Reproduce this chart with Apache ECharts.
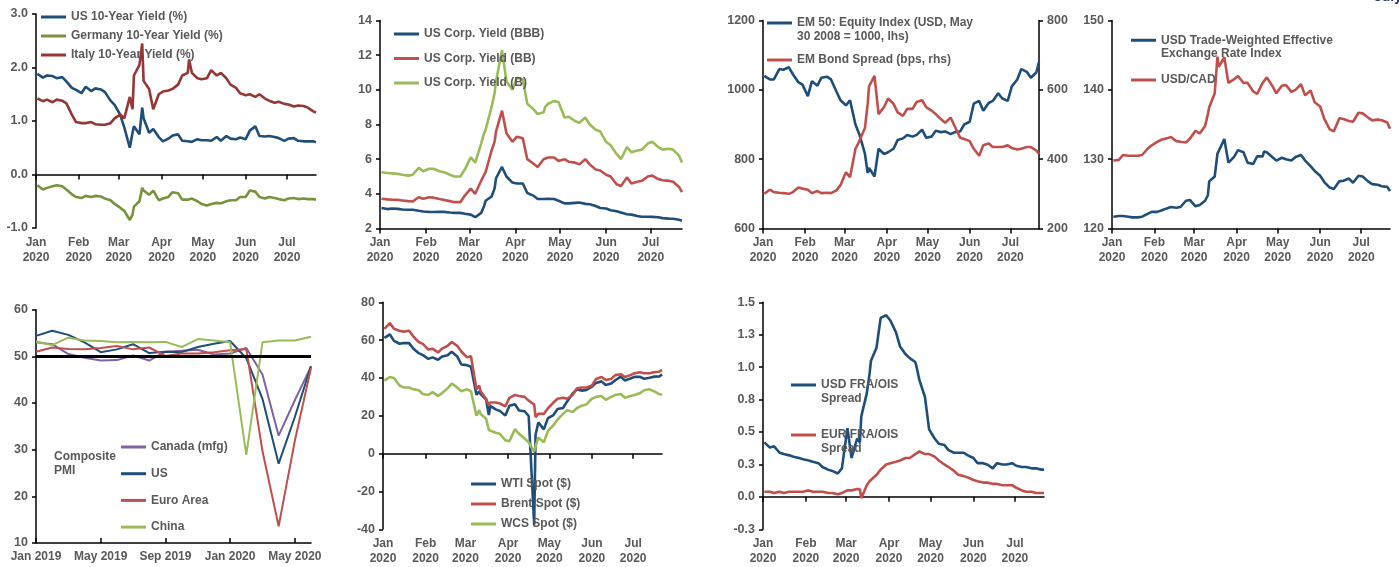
<!DOCTYPE html>
<html><head><meta charset="utf-8">
<script src="https://cdn.jsdelivr.net/npm/echarts@6/dist/echarts.min.js"></script>
<style>html,body{margin:0;padding:0;background:#fff}#c{width:1399px;height:567px}</style>
</head><body><div id="c"></div><script>
// ---------- shared daily sample dates ----------
const dates = ['2020-01-02','2020-01-06','2020-01-09','2020-01-13','2020-01-16','2020-01-20','2020-01-23','2020-01-27','2020-01-30',
'2020-02-03','2020-02-06','2020-02-10','2020-02-13','2020-02-17','2020-02-20','2020-02-24','2020-02-27',
'2020-03-02','2020-03-05','2020-03-09','2020-03-11','2020-03-12','2020-03-16','2020-03-18','2020-03-19','2020-03-23','2020-03-26','2020-03-30',
'2020-04-02','2020-04-06','2020-04-09','2020-04-13','2020-04-16','2020-04-20','2020-04-21','2020-04-23','2020-04-27','2020-04-30',
'2020-05-04','2020-05-07','2020-05-11','2020-05-14','2020-05-18','2020-05-21','2020-05-25','2020-05-28',
'2020-06-01','2020-06-04','2020-06-08','2020-06-11','2020-06-15','2020-06-18','2020-06-22','2020-06-25','2020-06-29',
'2020-07-02','2020-07-06','2020-07-09','2020-07-13','2020-07-16','2020-07-20','2020-07-22'];
const axisStart = '2020-01-01';
const axisEnd = '2020-07-22';
const monthTicks = ['2020-01-01','2020-02-01','2020-03-01','2020-04-01','2020-05-01','2020-06-01','2020-07-01'];
const monthNames = ['Jan','Feb','Mar','Apr','May','Jun','Jul','Aug','Sep','Oct','Nov','Dec'];

// ---------- panel 1: 10-year yields ----------
const us10y = [1.88,1.81,1.85,1.84,1.80,1.82,1.74,1.62,1.58,
1.52,1.64,1.56,1.61,1.59,1.54,1.38,1.30,
1.12,0.88,0.50,0.78,0.90,0.75,1.25,1.05,0.78,0.85,0.70,
0.62,0.67,0.73,0.75,0.63,0.62,0.60,0.61,0.66,0.64,
0.64,0.63,0.70,0.63,0.72,0.67,0.66,0.69,
0.66,0.82,0.90,0.72,0.71,0.72,0.70,0.68,0.63,
0.67,0.68,0.63,0.62,0.62,0.62,0.60];
const germany10y = [-0.20,-0.28,-0.25,-0.22,-0.20,-0.22,-0.28,-0.37,-0.42,
-0.44,-0.40,-0.42,-0.40,-0.41,-0.45,-0.48,-0.55,
-0.62,-0.68,-0.85,-0.75,-0.60,-0.50,-0.25,-0.30,-0.38,-0.30,-0.48,
-0.45,-0.42,-0.33,-0.35,-0.47,-0.47,-0.45,-0.45,-0.50,-0.55,
-0.58,-0.55,-0.53,-0.54,-0.50,-0.48,-0.48,-0.42,
-0.42,-0.30,-0.32,-0.42,-0.45,-0.42,-0.44,-0.46,-0.48,
-0.45,-0.44,-0.46,-0.45,-0.46,-0.46,-0.47];
const italy10y = [1.42,1.37,1.40,1.35,1.40,1.38,1.33,1.12,0.98,
0.96,0.96,0.98,0.94,0.93,0.93,0.96,1.05,
1.12,1.05,1.45,1.22,1.85,2.05,2.45,1.75,1.60,1.22,1.50,
1.55,1.57,1.60,1.68,1.85,1.90,2.15,1.90,1.80,1.78,
1.80,1.95,1.85,1.90,1.80,1.68,1.62,1.52,
1.48,1.50,1.45,1.50,1.42,1.38,1.34,1.36,1.32,
1.31,1.27,1.29,1.28,1.25,1.18,1.16];

// ---------- panel 2: US corporate yields ----------
const corpBBB = [3.18,3.12,3.15,3.13,3.10,3.08,3.08,3.02,2.98,
2.96,2.95,2.97,2.96,2.92,2.90,2.90,2.85,
2.80,2.65,2.90,3.30,3.60,3.85,4.30,4.90,5.55,5.00,4.65,
4.60,4.60,4.05,3.90,3.70,3.70,3.70,3.72,3.70,3.60,
3.45,3.45,3.48,3.50,3.42,3.40,3.30,3.18,
3.15,3.05,3.00,2.92,2.82,2.80,2.72,2.68,2.68,
2.67,2.65,2.60,2.57,2.56,2.50,2.45];
const corpBB = [3.72,3.68,3.66,3.65,3.62,3.58,3.56,3.80,3.72,
3.80,3.78,3.70,3.65,3.58,3.52,3.52,3.90,
4.30,4.00,4.75,5.10,5.25,6.50,7.00,7.60,8.80,7.50,7.00,
7.30,7.20,6.00,5.75,5.55,6.00,6.00,6.10,6.10,5.90,
6.00,5.85,5.80,5.70,6.00,5.70,5.40,5.35,
5.10,5.00,4.55,4.45,4.95,4.60,4.70,4.75,5.00,
5.05,4.85,4.78,4.75,4.70,4.40,4.10];
const corpB = [5.25,5.20,5.18,5.15,5.10,5.05,5.10,5.50,5.30,
5.45,5.45,5.30,5.25,5.10,5.00,5.00,5.40,
6.10,5.80,6.90,7.50,7.70,9.00,9.80,10.50,12.30,10.50,10.00,
10.70,10.60,9.20,8.90,8.60,8.70,9.00,9.20,9.35,9.30,
8.40,8.45,8.20,8.10,8.40,8.00,7.70,7.60,
7.00,6.80,6.30,6.00,6.70,6.40,6.50,6.55,6.90,
7.00,6.70,6.55,6.60,6.55,6.20,5.80];

// ---------- panel 3: EM equity & spread ----------
const em50 = [1040,1030,1030,1060,1058,1065,1045,1022,1015,
982,1025,1012,1035,1038,1030,995,970,
955,970,900,880,870,815,760,775,750,830,815,
820,830,855,860,870,865,860,870,885,862,
865,882,878,880,872,878,880,900,
908,960,968,940,962,968,990,975,968,
1010,1030,1060,1052,1035,1050,1080];
const emSpread = [300,312,305,303,302,300,305,318,315,
312,302,308,302,303,302,310,325,
362,348,430,445,440,490,560,610,640,530,550,
575,560,535,525,545,545,550,565,570,550,
540,530,515,505,520,495,462,458,
452,430,410,440,445,435,435,435,440,
432,428,430,435,435,425,415];

// ---------- panel 4: USD ----------
const usdTwi = [121.7,121.8,121.8,121.7,121.6,121.6,121.7,122.1,122.4,
122.4,122.6,122.9,123.1,123.0,123.1,124.0,124.1,
123.2,123.4,124.0,124.8,126.8,127.5,130.8,131.2,132.9,129.5,130.3,
131.3,131.0,129.5,129.3,130.4,130.4,131.1,131.0,130.3,129.8,
130.2,130.0,129.8,130.3,130.6,129.8,129.0,128.3,
127.6,126.7,125.9,125.7,126.8,126.9,127.2,126.6,127.6,
127.5,126.8,126.4,126.3,126.1,126.0,125.4];
const usdCad = [129.8,129.9,130.6,130.5,130.5,130.5,130.6,131.5,132.0,
132.5,132.8,133.0,133.2,132.6,132.5,132.4,133.0,
134.1,133.7,134.8,136.5,137.5,139.5,144.8,143.3,144.7,141.0,141.5,
142.0,141.0,141.0,139.8,139.4,141.0,140.8,141.8,140.6,139.5,
140.6,140.7,139.7,140.0,140.8,139.2,139.9,138.2,
137.6,135.8,134.3,134.0,135.9,135.8,135.5,135.4,136.7,
136.6,136.0,135.6,135.7,135.6,135.3,134.4];

// ---------- panel 5: composite PMI (monthly) ----------
const pmiMonths = ['Jan 2019','Feb 2019','Mar 2019','Apr 2019','May 2019','Jun 2019','Jul 2019','Aug 2019','Sep 2019','Oct 2019','Nov 2019','Dec 2019',
'Jan 2020','Feb 2020','Mar 2020','Apr 2020','May 2020','Jun 2020'];
const pmiCanada = [53.0,52.6,50.5,49.7,49.1,49.2,50.2,49.1,51.0,51.2,51.4,50.4,50.6,51.8,46.1,33.0,40.6,47.8];
const pmiUS = [54.4,55.5,54.6,53.0,50.9,51.5,52.6,50.7,51.0,50.9,52.0,52.7,53.3,49.6,40.9,27.0,37.0,47.9];
const pmiEuro = [51.0,51.9,51.6,51.5,51.8,52.2,51.5,51.9,50.1,50.6,50.6,50.9,51.3,51.6,29.7,13.6,31.9,47.5];
const pmiChina = [53.2,52.4,54.0,53.4,53.3,53.0,53.1,53.0,53.1,52.0,53.7,53.4,53.0,28.9,53.0,53.4,53.4,54.2];
const pmiThreshold = 50;

// ---------- panel 6: oil ----------
const wti = [61.2,63.0,59.6,58.1,58.5,58.4,55.6,53.1,52.1,
50.1,50.9,49.6,51.4,52.0,53.8,51.4,47.1,
46.8,45.9,31.1,32.9,31.5,28.7,20.4,25.2,23.4,22.6,20.1,
25.3,26.1,22.8,22.4,19.9,-37.6,10.0,16.5,12.8,18.8,
20.4,23.6,24.1,27.6,31.8,33.9,33.3,33.7,
35.4,37.4,38.2,36.3,37.1,38.8,40.7,38.7,39.7,
40.6,40.6,39.6,40.1,40.7,40.8,41.9];
const brent = [66.0,69.0,66.0,65.0,64.5,65.0,62.0,59.0,58.0,
55.0,55.5,53.5,55.5,57.0,59.0,57.0,54.0,
51.0,51.5,34.0,36.0,33.0,29.0,25.5,27.0,27.0,26.5,25.0,
29.5,31.0,30.5,30.0,28.0,26.0,19.3,21.0,21.0,24.0,
27.0,29.0,29.5,29.0,31.0,34.5,35.0,35.0,
36.0,39.5,40.5,39.0,39.5,41.5,42.0,40.5,41.5,
42.5,43.0,42.5,42.5,43.0,43.3,44.3];
const wcs = [38.6,40.5,40.0,36.0,35.0,35.0,34.0,33.5,31.5,
31.0,32.5,30.5,32.0,34.5,37.0,35.0,33.0,
34.0,33.0,20.0,23.0,21.0,18.5,12.5,11.5,11.0,10.5,7.0,
6.5,13.0,10.5,8.0,6.0,1.0,4.0,8.5,6.0,12.0,
15.0,18.0,21.0,23.0,22.0,24.0,25.5,26.0,
29.0,30.0,30.5,28.5,30.0,31.0,31.5,29.5,30.5,
31.0,32.0,33.5,34.0,33.0,31.5,31.0];

// ---------- panel 7: FRA/OIS ----------
const usdFraOis = [0.42,0.38,0.39,0.34,0.33,0.32,0.31,0.30,0.29,
0.28,0.27,0.26,0.23,0.21,0.20,0.18,0.22,
0.53,0.30,0.45,0.42,0.62,0.80,0.95,1.05,1.15,1.38,1.40,
1.36,1.27,1.16,1.10,1.07,1.04,1.00,0.90,0.77,0.52,
0.45,0.41,0.40,0.36,0.34,0.34,0.34,0.32,
0.30,0.26,0.26,0.25,0.22,0.26,0.25,0.25,0.26,
0.24,0.23,0.23,0.22,0.22,0.21,0.21];
const eurFraOis = [0.04,0.04,0.03,0.04,0.03,0.04,0.04,0.04,0.04,
0.05,0.04,0.04,0.04,0.03,0.03,0.02,0.03,
0.05,0.05,0.06,0.06,-0.01,0.09,0.12,0.13,0.17,0.21,0.25,
0.26,0.27,0.28,0.30,0.30,0.33,0.33,0.35,0.33,0.33,
0.31,0.28,0.25,0.23,0.20,0.17,0.16,0.15,
0.13,0.12,0.11,0.11,0.10,0.10,0.09,0.09,0.09,
0.07,0.05,0.04,0.04,0.03,0.03,0.03];

// ================= rendering =================
const FONT = '"Liberation Sans", Arial, sans-serif';
const GREY = '#595959';
const BLUE = '#1f4e79', RED = '#c0504d', DRED = '#953735', GREEN = '#9bbb59', DGREEN = '#77933c', PURPLE = '#8064a2';
function parseLocal(s){ const p = s.split('-').map(Number); return new Date(p[0], p[1]-1, p[2]).getTime(); }
const monthTs = monthTicks.map(parseLocal);
const X_MIN = parseLocal(axisStart), X_MAX = parseLocal(axisEnd);
const lbl = {color: GREY, fontWeight: 'bold', fontSize: 12, fontFamily: FONT};
const blackLine = {color: '#000', width: 1.5};
function fmtMonth(v){ const d = new Date(v); return monthNames[d.getMonth()] + '\n' + d.getFullYear(); }

// date axes are value axes over timestamps, with ticks/labels placed on month starts
function dateAxis(grid, withLine){
  return {type:'value', gridIndex:grid, min:X_MIN, max:X_MAX, position:'bottom', scale:true,
    axisLine: withLine ? {show:true, onZero:false, lineStyle:blackLine} : {show:false, onZero:false},
    axisTick: withLine ? {show:true, length:5, customValues:monthTs, lineStyle:blackLine} : {show:false},
    axisLabel: Object.assign({show:true, customValues:monthTs, margin:7, lineHeight:15, formatter:fmtMonth,
      showMinLabel:true, showMaxLabel:true, hideOverlap:false}, lbl),
    splitLine:{show:false}};
}
function zeroAxis(grid){
  return {type:'value', gridIndex:grid, min:X_MIN, max:X_MAX, position:'bottom', scale:true,
    axisLine:{show:true, onZero:true, lineStyle:blackLine},
    axisTick:{show:true, length:5, customValues:monthTs, lineStyle:blackLine},
    axisLabel:{show:false}, splitLine:{show:false}};
}
const plain = v => String(v);
function valAxis(grid, min, max, interval, fmt, pos){
  return {type:'value', gridIndex:grid, min, max, interval, position: pos || 'left',
    axisLine:{show:true, onZero:false, lineStyle:blackLine},
    axisTick:{show:true, length:4, lineStyle:blackLine},
    axisLabel: Object.assign({margin:8, formatter: fmt || plain}, lbl, {fontSize:12.5}),
    splitLine:{show:false}};
}
const f1 = v => v.toFixed(1);
const ts = arr => dates.map((d, i) => [parseLocal(d), arr[i]]);
function line(name, data, color, xi, yi, extra){
  return Object.assign({type:'line', name, data, xAxisIndex:xi, yAxisIndex:yi, showSymbol:false, symbol:'none',
    lineStyle:{width:2.6, color}, itemStyle:{color}, emphasis:{disabled:true}, animation:false}, extra || {});
}
function legend(names, left, top, gap, fmt, lh){
  return {data:names, left, top, orient:'vertical', itemGap:gap || 0, padding:0, icon:'rect', itemWidth:25, itemHeight:3,
    selectedMode:false, formatter: fmt || (n => n),
    textStyle: Object.assign({lineHeight: lh || 14}, lbl)};
}

const EM1 = 'EM 50: Equity Index (USD, May 30 2008 = 1000, lhs)';
const TWI = 'USD Trade-Weighted Effective Exchange Rate Index';
const USDF = 'USD FRA/OIS Spread', EURF = 'EUR FRA/OIS Spread';

const option = {
  backgroundColor:'#fff',
  animation:false,
  textStyle:{fontFamily:FONT},
  grid:[
    {left:36, top:14, width:280, height:214},
    {left:380, top:20.5, width:302, height:208},
    {left:763, top:20.5, width:276, height:208},
    {left:1112, top:20.5, width:278, height:208},
    {left:36, top:309.7, width:275, height:233.3},
    {left:383, top:302.3, width:279, height:227},
    {left:763, top:302.3, width:281, height:227}
  ],
  xAxis:[
    dateAxis(0,false), zeroAxis(0),
    dateAxis(1,true),
    dateAxis(2,true),
    dateAxis(3,true),
    {type:'category', gridIndex:4, data:pmiMonths, boundaryGap:false, position:'bottom',
      axisLine:{show:true, onZero:false, lineStyle:blackLine},
      axisTick:{show:true, inside:true, interval:3, length:5, lineStyle:blackLine},
      axisLabel:Object.assign({interval:3, margin:8}, lbl), splitLine:{show:false}},
    dateAxis(5,false), zeroAxis(5),
    dateAxis(6,false), zeroAxis(6)
  ],
  yAxis:[
    valAxis(0,-1,3,1,f1),
    valAxis(1,2,14,2),
    valAxis(2,600,1200,200),
    valAxis(2,200,800,200,null,'right'),
    valAxis(3,120,150,10),
    valAxis(4,10,60,10),
    valAxis(5,-40,80,20),
    valAxis(6,-0.25,1.5,0.25,f1)
  ],
  legend:[
    legend(['US 10-Year Yield (%)','Germany 10-Year Yield (%)','Italy 10-Year Yield (%)'], 41, 10, 5),
    legend(['US Corp. Yield (BBB)','US Corp. Yield (BB)','US Corp. Yield (B)'], 394, 27, 10.5),
    legend([EM1], 767, 2, 0, () => ' \nEM 50: Equity Index (USD, May\n30 2008 = 1000, lhs)'),
    legend(['EM Bond Spread (bps, rhs)'], 767, 53),
    legend([TWI], 1131, 20, 0, () => ' \nUSD Trade-Weighted Effective\nExchange Rate Index', 13.5),
    legend(['USD/CAD'], 1131, 73),
    legend(['Canada (mfg)','US','Euro Area','China'], 121, 440, 12.7),
    legend(['WTI Spot ($)','Brent Spot ($)','WCS Spot ($)'], 471, 477, 6),
    legend([USDF], 791, 364, 0, () => ' \nUSD FRA/OIS\nSpread'),
    legend([EURF], 791, 414, 0, () => ' \nEUR FRA/OIS\nSpread')
  ],
  graphic:[
    {type:'text', left:54, top:450, style:{text:'Composite\nPMI', align:'center', fill:GREY, fontWeight:'bold', fontSize:12, fontFamily:FONT, lineHeight:13.5}},
    {type:'text', right:-3, top:-10, style:{text:'July', fill:'#1f3864', fontWeight:'bold', fontSize:14, fontFamily:FONT}}
  ],
  series:[
    line('US 10-Year Yield (%)', ts(us10y), BLUE, 0, 0),
    line('Germany 10-Year Yield (%)', ts(germany10y), DGREEN, 0, 0),
    line('Italy 10-Year Yield (%)', ts(italy10y), DRED, 0, 0),

    line('US Corp. Yield (BBB)', ts(corpBBB), BLUE, 2, 1),
    line('US Corp. Yield (BB)', ts(corpBB), RED, 2, 1),
    line('US Corp. Yield (B)', ts(corpB), GREEN, 2, 1),

    line(EM1, ts(em50), BLUE, 3, 2),
    line('EM Bond Spread (bps, rhs)', ts(emSpread), RED, 3, 3),

    line(TWI, ts(usdTwi), BLUE, 4, 4),
    line('USD/CAD', ts(usdCad), RED, 4, 4),

    line('Canada (mfg)', pmiCanada, PURPLE, 5, 5, {lineStyle:{width:2, color:PURPLE}}),
    line('US', pmiUS, BLUE, 5, 5, {lineStyle:{width:2, color:BLUE}}),
    line('Euro Area', pmiEuro, RED, 5, 5, {lineStyle:{width:2, color:RED}}),
    line('China', pmiChina, GREEN, 5, 5, {lineStyle:{width:2, color:GREEN},
      markLine:{silent:true, symbol:'none', label:{show:false}, lineStyle:{color:'#000', width:3, type:'solid'}, data:[{yAxis:pmiThreshold}]}}),

    line('WTI Spot ($)', ts(wti), BLUE, 6, 6),
    line('Brent Spot ($)', ts(brent), RED, 6, 6),
    line('WCS Spot ($)', ts(wcs), GREEN, 6, 6),

    line(USDF, ts(usdFraOis), BLUE, 8, 7),
    line(EURF, ts(eurFraOis), RED, 8, 7)
  ]
};
const chart = echarts.init(document.getElementById('c'), null, {renderer:'canvas'});
chart.setOption(option);
</script></body></html>
